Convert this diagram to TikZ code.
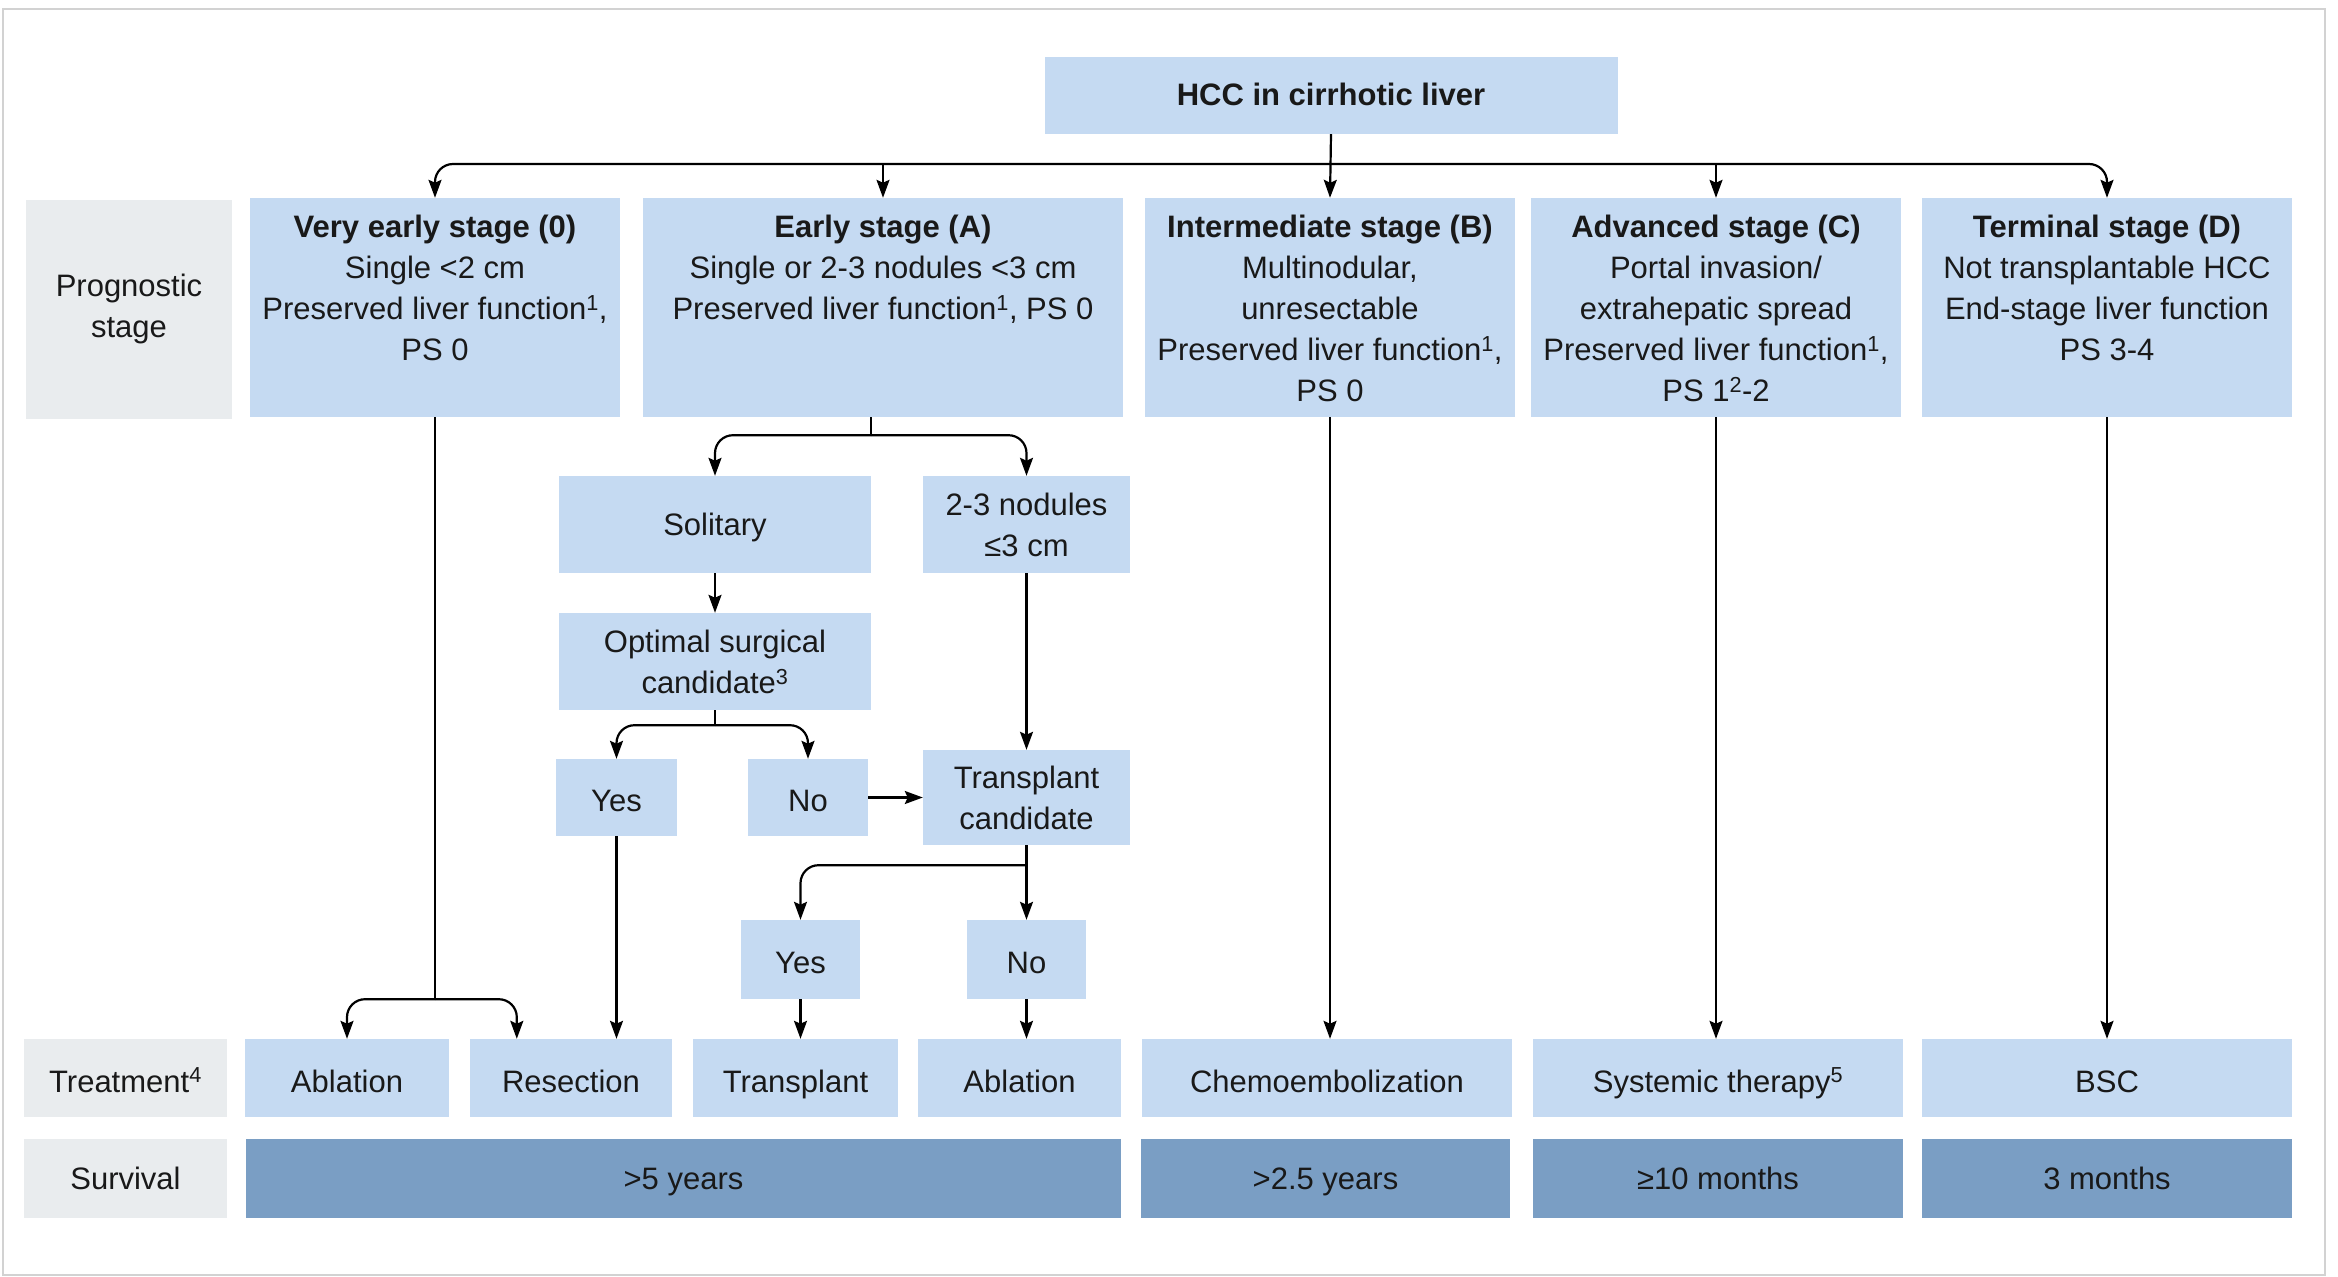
\documentclass[tikz,border=0pt]{standalone}
\usepackage{fontspec}
\setmainfont{Liberation Sans}
\usetikzlibrary{arrows.meta,calc}
\definecolor{lblue}{HTML}{C5DAF2}
\definecolor{dblue}{HTML}{7A9EC4}
\definecolor{lgray}{HTML}{E9ECEE}
\definecolor{framec}{HTML}{D2D2D2}
\newcommand{\myfs}{\fontsize{31}{41}\selectfont}
\begin{document}
\begin{tikzpicture}[x=1pt,y=-1pt,
  every node/.style={font=\myfs, inner sep=0pt, align=center, text=black!90},
  one/.style={text height=27pt, text depth=5pt},
  onelow/.style={text height=33pt, text depth=5pt},
  box/.style={fill=lblue},
  graybox/.style={fill=lgray},
  survbox/.style={fill=dblue},
  sz/.style n args={2}{minimum width=#1pt, minimum height=#2pt},
  stagebox/.style={fill=lblue, minimum width=370pt, minimum height=219pt},
  stxt/.style={anchor=north, yshift=-17pt},
  arr/.style={-{Stealth[length=18pt,width=13pt,inset=3pt]}, line width=2.2pt},
  ln/.style={line width=2.2pt},
  rc/.style={rounded corners=18pt}
]
\useasboundingbox (0,0) rectangle (2338,1277);
\draw[framec, line width=2pt] (3,9) rectangle (2325,1275);

% top
\node[box, text height=25pt, text depth=5pt, sz={573}{77}, font=\myfs\bfseries] (hcc) at (1331,95.5) {HCC in cirrhotic liver};

% stage row
\node[graybox, sz={206}{219}] (prog) at (129,309) {Prognostic\\stage};
\node[stagebox, label={[stxt]north:{\textbf{Very early stage (0)}\\Single <2 cm\\Preserved liver function\textsuperscript{1},\\PS 0}}] (s0) at (435,307.5) {};
\node[stagebox, minimum width=480pt, label={[stxt]north:{\textbf{Early stage (A)}\\Single or 2-3 nodules <3 cm\\Preserved liver function\textsuperscript{1}, PS 0}}] (sA) at (883,307.5) {};
\node[stagebox, label={[stxt]north:{\textbf{Intermediate stage (B)}\\Multinodular,\\unresectable\\Preserved liver function\textsuperscript{1},\\PS 0}}] (sB) at (1330,307.5) {};
\node[stagebox, label={[stxt]north:{\textbf{Advanced stage (C)}\\Portal invasion/\\extrahepatic spread\\Preserved liver function\textsuperscript{1},\\PS 1\textsuperscript{2}-2}}] (sC) at (1716,307.5) {};
\node[stagebox, label={[stxt]north:{\textbf{Terminal stage (D)}\\Not transplantable HCC\\End-stage liver function\\PS 3-4}}] (sD) at (2107,307.5) {};

% early subtree
\node[box, one, sz={312}{97}] (sol) at (715,524.5) {Solitary};
\node[box, sz={207}{97}] (nod) at (1026.5,524.5) {2-3 nodules\\≤3 cm};
\node[box, sz={312}{97}] (opt) at (715,661.5) {Optimal surgical\\candidate\textsuperscript{3}};
\node[box, onelow, sz={121}{77}] (yes1) at (616.5,797.5) {Yes};
\node[box, onelow, sz={120}{77}] (no1) at (808,797.5) {No};
\node[box, sz={207}{95}] (tc) at (1026.5,797.5) {Transplant\\candidate};
\node[box, onelow, sz={119}{79}] (yes2) at (800.5,959.5) {Yes};
\node[box, onelow, sz={119}{79}] (no2) at (1026.5,959.5) {No};

% treatment row
\node[graybox, onelow, sz={203}{78}] (treat) at (125.5,1078) {Treatment\textsuperscript{4}};
\node[box, onelow, sz={204}{78}] (abl1) at (347,1078) {Ablation};
\node[box, onelow, sz={202}{78}] (res) at (571,1078) {Resection};
\node[box, onelow, sz={205}{78}] (trans) at (795.5,1078) {Transplant};
\node[box, onelow, sz={203}{78}] (abl2) at (1019.5,1078) {Ablation};
\node[box, onelow, sz={370}{78}] (chemo) at (1327,1078) {Chemoembolization};
\node[box, onelow, sz={370}{78}] (sys) at (1718,1078) {Systemic therapy\textsuperscript{5}};
\node[box, onelow, sz={370}{78}] (bsc) at (2107,1078) {BSC};

% survival row
\node[graybox, one, sz={203}{79}] (surv) at (125.5,1178.5) {Survival};
\node[survbox, one, sz={875}{79}] (y5) at (683.5,1178.5) {>5 years};
\node[survbox, one, sz={369}{79}] (y25) at (1325.5,1178.5) {>2.5 years};
\node[survbox, one, sz={370}{79}] (m10) at (1718,1178.5) {≥10 months};
\node[survbox, one, sz={370}{79}] (m3) at (2107,1178.5) {3 months};

% top bus
\coordinate (bus) at (1331,164);
\draw[arr] (hcc.south) -- (sB.north);
\draw[arr, rc] (bus) -| (s0.north);
\draw[arr, rc] (bus) -| (sD.north);
\draw[arr] (bus -| sA.north) -- (sA.north);
\draw[arr] (bus -| sC.north) -- (sC.north);

% very early branch
\coordinate (vj) at ($(s0.south)+(0,582)$);
\draw[ln] (s0.south) -- (vj);
\draw[arr, rc] (vj) -| (abl1.north);
\draw[arr, rc] (vj) -| ($(res.north west)+(47,0)$);
\draw[arr] (yes1.south) -- (yes1.south |- res.north);

% early branch
\coordinate (ej) at (sol.east |- sA.south);
\coordinate (ej2) at ($(ej)+(0,18)$);
\draw[ln] (ej) -- (ej2);
\draw[arr, rc] (ej2) -| (sol.north);
\draw[arr, rc] (ej2) -| (nod.north);
\draw[arr] (sol) -- (opt);
\coordinate (oj) at ($(opt.south)+(0,15)$);
\draw[ln] (opt.south) -- (oj);
\draw[arr, rc] (oj) -| (yes1.north);
\draw[arr, rc] (oj) -| (no1.north);
\draw[arr] (nod) -- (tc);
\draw[arr] (no1) -- (tc);
\coordinate (tj) at ($(tc.south)+(0,20)$);
\draw[arr] (tc.south) -- (tc.south |- no2.north);
\draw[arr, rc] (tj) -| (yes2.north);
\draw[arr] (yes2.south) -- (yes2.south |- trans.north);
\draw[arr] (no2.south) -- (no2.south |- abl2.north);

% other stages
\draw[arr] (sB.south) -- (sB.south |- chemo.north);
\draw[arr] (sC.south) -- (sC.south |- sys.north);
\draw[arr] (sD.south) -- (sD.south |- bsc.north);
\end{tikzpicture}
\end{document}
